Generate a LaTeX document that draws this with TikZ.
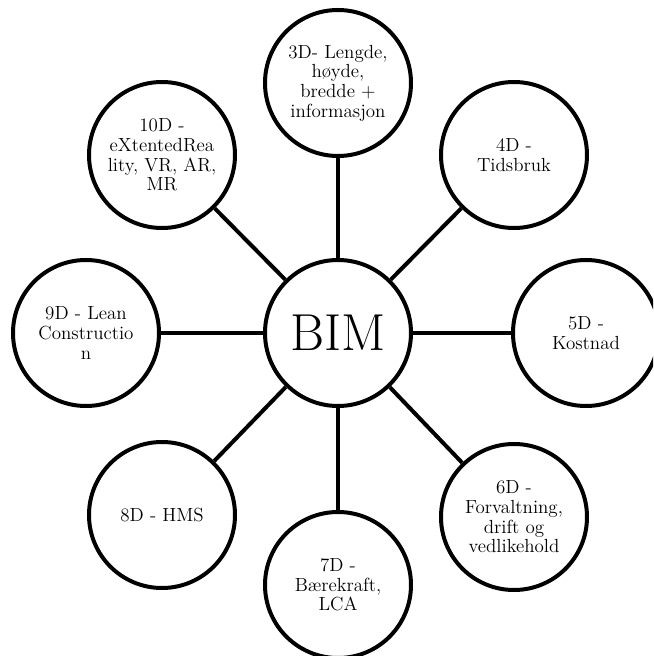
\documentclass[tikz,border=0pt]{standalone}
\usepackage{fontspec}
\usepackage{tikz}

\begin{document}
\begin{tikzpicture}
	[
		scale=1.00,
		dim/.style = {circle, align=center, draw=black, fill=none, line width=0.1cm, minimum size=3.65cm, inner sep=0pt, font=\fontsize{13.5}{14}\selectfont},
		core/.style = {dim, font=\fontsize{37}{40}\selectfont},
	]

	% frame of the picture
	\clip ( -8.45,  8.325 ) rectangle (  7.875, -8.075 );

	% centre
	\node[core] (bim) 	at (  0.0,   0.0  ) {BIM};

	% dimensions
	\node[dim] (d3) 	at (  0.0,   6.25 ) {3D- Lengde,\\høyde,\\bredde +\\informasjon};
	\node[dim] (d4) 	at (  4.4,   4.45 ) {4D -\\Tidsbruk};
	\node[dim] (d5) 	at (  6.2,   0.0  ) {5D -\\Kostnad};
	\node[dim] (d6) 	at (  4.4,  -4.6  ) {6D -\\Forvaltning,\\drift og\\vedlikehold};
	\node[dim] (d7) 	at (  0.0,  -6.3  ) {7D -\\Bærekraft,\\LCA};
	\node[dim] (d8) 	at ( -4.4,  -4.55 ) {8D - HMS};
	\node[dim] (d9) 	at ( -6.3,   0.0  ) {9D - Lean\\Constructio\\n};
	\node[dim] (d10) 	at ( -4.4,   4.45 ) {10D -\\eXtentedRea\\lity, VR, AR,\\MR};

	\foreach \to in {d3,d4,d5,d6,d7,d8,d9,d10}
	\draw[line width=0.1cm] (bim) -- (\to);

	\end{tikzpicture}
\end{document}
